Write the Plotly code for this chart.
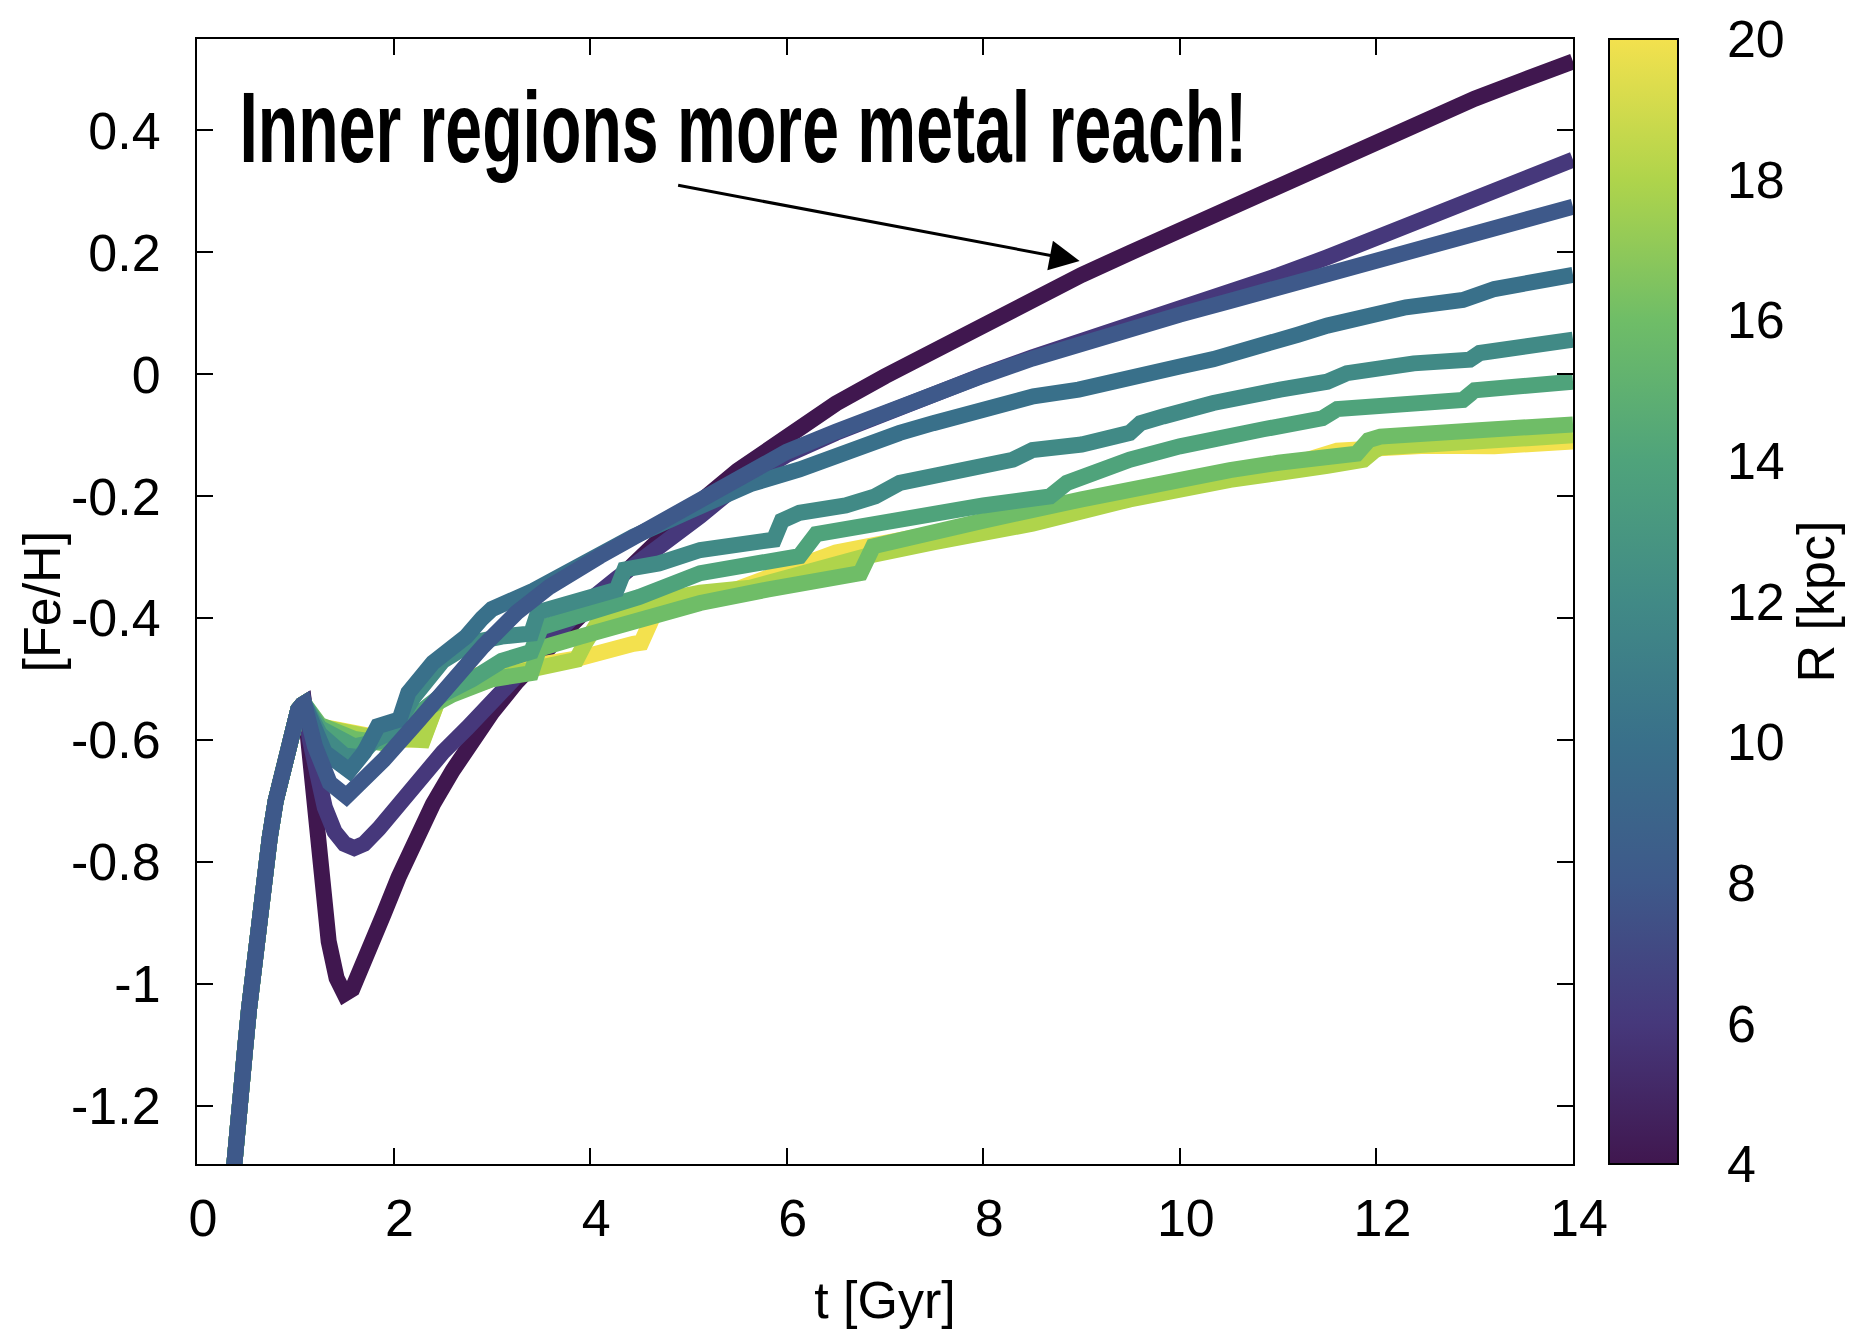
import plotly.graph_objects as go
from plotly.colors import sample_colorscale

# Galactocentric radii of the tracks [kpc]
radii = [4, 6, 8, 10, 12, 14, 16, 18, 20]

# Shared early enrichment (all radii follow the same rise up to the first peak)
t_early = [0.36, 0.375, 0.40, 0.43, 0.46, 0.49, 0.53, 0.57, 0.62, 0.68, 0.74, 0.80, 0.87,
           0.93, 0.98, 1.03, 1.07, 1.09]
feh_early = [-1.33, -1.295, -1.25, -1.2, -1.15, -1.105, -1.04, -0.98, -0.91, -0.83, -0.76,
             -0.70, -0.645, -0.60, -0.57, -0.55, -0.542, -0.54]

# Tracks after the peak, one pair of arrays per radius
t_r4 = [1.12, 1.16, 1.21, 1.27, 1.34, 1.42, 1.5, 1.58, 1.66, 1.75, 1.9, 2.05, 2.2, 2.4, 2.6,
        2.8, 3.0, 3.25, 3.5, 3.75, 4.0, 4.5, 5.0, 5.5, 6.0, 6.5, 7.0, 7.5, 8.0, 8.5, 9.0, 9.5,
        10.0, 10.5, 11.0, 11.5, 12.0, 12.5, 13.0, 13.5, 14.0]
feh_r4 = [-0.58, -0.65, -0.75, -0.85, -0.93, -0.99, -1.016, -1.008, -0.98, -0.945, -0.885,
          -0.825, -0.77, -0.705, -0.65, -0.6, -0.555, -0.505, -0.46, -0.42, -0.38, -0.3,
          -0.225, -0.158, -0.1, -0.048, -0.003, 0.04, 0.083, 0.124, 0.163, 0.2, 0.237, 0.273,
          0.31, 0.347, 0.383, 0.418, 0.452, 0.483, 0.513]

t_r6 = [1.15, 1.22, 1.3, 1.4, 1.5, 1.6, 1.7, 1.85, 2.05, 2.25, 2.5, 2.75, 3.0, 3.25, 3.5,
        3.76, 4.0, 4.27, 4.78, 5.12, 5.5, 6.0, 6.5, 7.0, 7.5, 8.0, 8.5, 9.0, 9.5, 10.0, 10.5,
        11.0, 11.5, 12.0, 12.5, 13.0, 13.5, 14.0]
feh_r6 = [-0.6, -0.66, -0.71, -0.75, -0.77, -0.777, -0.77, -0.745, -0.705, -0.665, -0.62,
          -0.58, -0.54, -0.495, -0.45, -0.405, -0.37, -0.335, -0.275, -0.232, -0.182, -0.132,
          -0.096, -0.063, -0.031, -0.001, 0.028, 0.054, 0.08, 0.105, 0.133, 0.162, 0.192,
          0.223, 0.254, 0.286, 0.319, 0.352]

t_r8 = [1.2, 1.35, 1.52, 1.7, 1.9, 2.23, 2.57, 2.91, 3.25, 3.59, 4.1, 4.61, 5.12, 5.5, 6.0,
        6.5, 7.0, 7.5, 8.0, 8.5, 9.0, 9.5, 10.0, 10.5, 11.0, 11.5, 12.0, 12.5, 13.0, 13.5, 14.0]
feh_r8 = [-0.61, -0.67, -0.692, -0.665, -0.632, -0.572, -0.506, -0.446, -0.391, -0.348,
          -0.298, -0.252, -0.2, -0.165, -0.127, -0.094, -0.062, -0.031, -0.002, 0.026,
          0.052, 0.076, 0.098, 0.12, 0.142, 0.164, 0.186, 0.207, 0.23, 0.252, 0.275]

t_r10 = [1.3, 1.55, 1.7, 1.84, 2.06, 2.15, 2.4, 2.6, 2.74, 2.9, 3.0, 3.42, 3.8, 4.44, 5.0,
         5.63, 6.13, 6.3, 6.64, 7.15, 7.49, 8.0, 8.51, 8.97, 9.49, 10.0, 10.34, 10.85, 11.2,
         11.5, 11.87, 12.3, 12.88, 13.2, 14.0]
feh_r10 = [-0.62, -0.65, -0.62, -0.577, -0.566, -0.522, -0.473, -0.45, -0.43, -0.40, -0.385,
           -0.355, -0.32, -0.266, -0.225, -0.18, -0.156, -0.145, -0.124, -0.096, -0.08,
           -0.058, -0.036, -0.025, -0.003, 0.013, 0.025, 0.046, 0.065, 0.08, 0.095, 0.11,
           0.122, 0.14, 0.163]

t_r12 = [1.25, 1.5, 1.65, 1.8, 2.0, 2.2, 2.5, 2.8, 3.1, 3.4, 3.47, 3.6, 4.0, 4.27, 4.35, 4.7,
         5.12, 5.5, 5.87, 5.95, 6.13, 6.6, 6.9, 7.15, 7.6, 8.0, 8.3, 8.5, 9.0, 9.49, 9.6,
         9.83, 10.34, 11.02, 11.5, 11.7, 12.38, 12.95, 13.05, 14.0]
feh_r12 = [-0.59, -0.625, -0.628, -0.6, -0.585, -0.53, -0.47, -0.44, -0.43, -0.425, -0.39,
           -0.385, -0.37, -0.353, -0.32, -0.31, -0.288, -0.278, -0.271, -0.24, -0.227,
           -0.215, -0.2, -0.178, -0.165, -0.155, -0.14, -0.124, -0.115, -0.096, -0.08,
           -0.069, -0.047, -0.025, -0.012, 0.002, 0.018, 0.024, 0.035, 0.057]

t_r14 = [1.25, 1.6, 1.9, 2.2, 2.5, 2.8, 3.1, 3.4, 3.5, 4.0, 4.5, 5.12, 5.6, 6.13, 6.3, 7.0,
         7.49, 8.0, 8.68, 8.85, 9.49, 10.0, 10.85, 11.45, 11.6, 12.2, 12.88, 13.0, 13.5, 14.0]
feh_r14 = [-0.58, -0.61, -0.6, -0.56, -0.525, -0.5, -0.47, -0.455, -0.415, -0.39, -0.365,
           -0.326, -0.312, -0.298, -0.262, -0.24, -0.227, -0.215, -0.2, -0.178, -0.14,
           -0.118, -0.09, -0.072, -0.057, -0.05, -0.042, -0.026, -0.02, -0.012]

t_r16 = [1.25, 1.6, 1.9, 2.2, 2.6, 3.0, 3.4, 3.48, 3.9, 4.3, 5.12, 5.8, 6.75, 6.88, 7.5, 8.0,
         9.0, 9.49, 10.51, 11.0, 11.8, 11.92, 12.04, 13.0, 14.0]
feh_r16 = [-0.575, -0.598, -0.605, -0.56, -0.525, -0.5, -0.49, -0.45, -0.43, -0.41, -0.375,
           -0.353, -0.326, -0.282, -0.262, -0.24, -0.205, -0.188, -0.157, -0.145, -0.13,
           -0.108, -0.102, -0.092, -0.082]

t_r18 = [1.22, 1.6, 1.9, 2.1, 2.3, 2.45, 2.51, 3.08, 3.86, 3.95, 4.1, 4.78, 5.12, 5.63, 6.81,
         7.5, 8.5, 9.49, 10.51, 11.5, 11.87, 11.98, 12.04, 13.0, 14.0]
feh_r18 = [-0.577, -0.59, -0.599, -0.598, -0.6, -0.535, -0.528, -0.495, -0.468, -0.44,
           -0.402, -0.369, -0.358, -0.35, -0.298, -0.275, -0.245, -0.205, -0.173, -0.15,
           -0.14, -0.125, -0.12, -0.11, -0.1]

t_r20 = [1.19, 1.6, 1.98, 2.3, 2.45, 2.82, 3.9, 4.44, 4.52, 4.64, 4.78, 5.5, 6.5, 8.0, 9.0,
         10.0, 11.0, 11.6, 12.5, 13.2, 14.0]
feh_r20 = [-0.575, -0.59, -0.60, -0.598, -0.535, -0.494, -0.465, -0.442, -0.44, -0.397,
           -0.375, -0.352, -0.292, -0.245, -0.215, -0.185, -0.155, -0.125, -0.117, -0.118,
           -0.11]

tracks = {
    4: (t_r4, feh_r4), 6: (t_r6, feh_r6), 8: (t_r8, feh_r8), 10: (t_r10, feh_r10),
    12: (t_r12, feh_r12), 14: (t_r14, feh_r14), 16: (t_r16, feh_r16),
    18: (t_r18, feh_r18), 20: (t_r20, feh_r20),
}

# Axis ticks
x_ticks = [0, 2, 4, 6, 8, 10, 12, 14]
y_ticks = [-1.2, -1.0, -0.8, -0.6, -0.4, -0.2, 0.0, 0.2, 0.4]
y_tick_text = ["-1.2", "-1", "-0.8", "-0.6", "-0.4", "-0.2", "0", "0.2", "0.4"]
cbar_ticks = [4, 6, 8, 10, 12, 14, 16, 18, 20]

R_MIN, R_MAX = 4, 20
FONT = "Liberation Sans, Arial, Helvetica, sans-serif"
FS = 52

# Soft viridis-like palette, one stop per 2 kpc
palette = ["#40174f", "#46387b", "#3e598a", "#39708a", "#418a86", "#4fa37b",
           "#6fbd67", "#afd44b", "#f3e14e"]
colorscale = [[i / (len(palette) - 1), c] for i, c in enumerate(palette)]

# Figure geometry in pixels
W, H = 1859, 1329
ML, MR, MT, MB = 197, 286, 39, 165
PW = W - ML - MR
CB_LEFT, CB_THICK = 1609, 69

colors = dict(zip(radii, sample_colorscale(colorscale, [(r - R_MIN) / (R_MAX - R_MIN) for r in radii])))

fig = go.Figure()

# Drawing order: innermost first, then outer, R=8 on top
for r in [4, 6, 20, 18, 16, 14, 12, 10, 8]:
    tt, ff = tracks[r]
    fig.add_trace(go.Scatter(
        x=t_early + tt, y=feh_early + ff, mode="lines",
        line=dict(color=colors[r], width=16),
        name=f"R = {r} kpc", showlegend=False, hoverinfo="skip",
    ))

# Colour scale for radius
cb_x = (CB_LEFT - ML) / PW
fig.add_trace(go.Scatter(
    x=[None] * len(radii), y=[None] * len(radii), mode="markers", showlegend=False,
    marker=dict(color=radii, colorscale=colorscale, cmin=R_MIN, cmax=R_MAX, showscale=True,
                colorbar=dict(
                    thickness=CB_THICK, thicknessmode="pixels", len=1, lenmode="fraction",
                    y=0.5, yanchor="middle", ypad=0, x=cb_x, xanchor="left", xpad=0,
                    outlinewidth=2, outlinecolor="black",
                    tickvals=cbar_ticks, ticktext=[str(v) for v in cbar_ticks],
                    ticks="outside", ticklen=38, tickcolor="rgba(0,0,0,0)",
                    tickfont=dict(family=FONT, size=FS, color="black"),
                    title=dict(text="R [kpc]", side="right",
                               font=dict(family=FONT, size=FS, color="black")),
                )),
))

# Inward tick marks on both edges of the colour bar
tick_len = 16 / PW
cb_right = (CB_LEFT + CB_THICK - ML) / PW
shapes = []
for v in cbar_ticks[1:-1]:
    yp = (v - R_MIN) / (R_MAX - R_MIN)
    for x0, x1 in [(cb_x, cb_x + tick_len), (cb_right, cb_right - tick_len)]:
        shapes.append(dict(type="line", xref="paper", yref="paper", x0=x0, x1=x1, y0=yp, y1=yp,
                           line=dict(color="black", width=2)))

axis_common = dict(
    showline=True, linecolor="black", linewidth=2, mirror="ticks",
    ticks="inside", ticklen=16, tickwidth=2, tickcolor="black",
    showgrid=False, zeroline=False,
    tickfont=dict(family=FONT, size=FS, color="black"),
)

fig.update_layout(
    width=W, height=H, margin=dict(l=ML, r=MR, t=MT, b=MB, autoexpand=False),
    paper_bgcolor="white", plot_bgcolor="white",
    xaxis=dict(range=[0, 14], tickvals=x_ticks, ticktext=[str(v) for v in x_ticks],
               ticklabelstandoff=8, ticklabelshift=6,
               title=dict(text="t [Gyr]", standoff=58, font=dict(family=FONT, size=FS, color="black")),
               **axis_common),
    yaxis=dict(range=[-1.295, 0.55], tickvals=y_ticks, ticktext=y_tick_text,
               ticklabelstandoff=24, **axis_common),
    shapes=shapes,
    annotations=[
        # y-axis title
        dict(text="[Fe/H]", x=(41 - ML) / PW, y=0.5, xref="paper", yref="paper",
             xanchor="center", yanchor="middle", textangle=-90, showarrow=False,
             font=dict(family=FONT, size=FS, color="black")),
        dict(text="Inner regions more metal reach!", x=5.565, y=0.405, xref="x", yref="y",
             xanchor="center", yanchor="middle", showarrow=False,
             font=dict(family="Liberation Sans Narrow, Liberation Sans, Arial", size=100,
                       color="black", weight="bold")),
        dict(text="", x=8.98, y=0.186, xref="x", yref="y", ax=4.88, ay=0.3105,
             axref="x", ayref="y", showarrow=True, arrowhead=2, arrowsize=2.0,
             arrowwidth=3, arrowcolor="black", standoff=0),
    ],
)

# Condense the headline horizontally so it spans its intended width,
# and fit the annotation box to the condensed text
post = """
var gd = document.getElementById('{plot_id}');
var target = 1008;
gd.querySelectorAll('text.annotation-text').forEach(function(el){
  if (el.textContent.indexOf('Inner') !== 0) return;
  var bb = el.getBBox();
  var sx = target / bb.width;
  var cx = bb.x + bb.width / 2;
  var old = el.getAttribute('transform') || '';
  el.setAttribute('transform', old + ' translate(' + cx + ',0) scale(' + sx + ',1) translate(' + (-cx) + ',0)');
  var rect = el.parentNode.querySelector('rect.bg');
  if (rect) {
    rect.setAttribute('x', cx - target / 2);
    rect.setAttribute('width', target);
  }
});
"""

fig.write_html("out.html", post_script=post, config={"displayModeBar": False})
